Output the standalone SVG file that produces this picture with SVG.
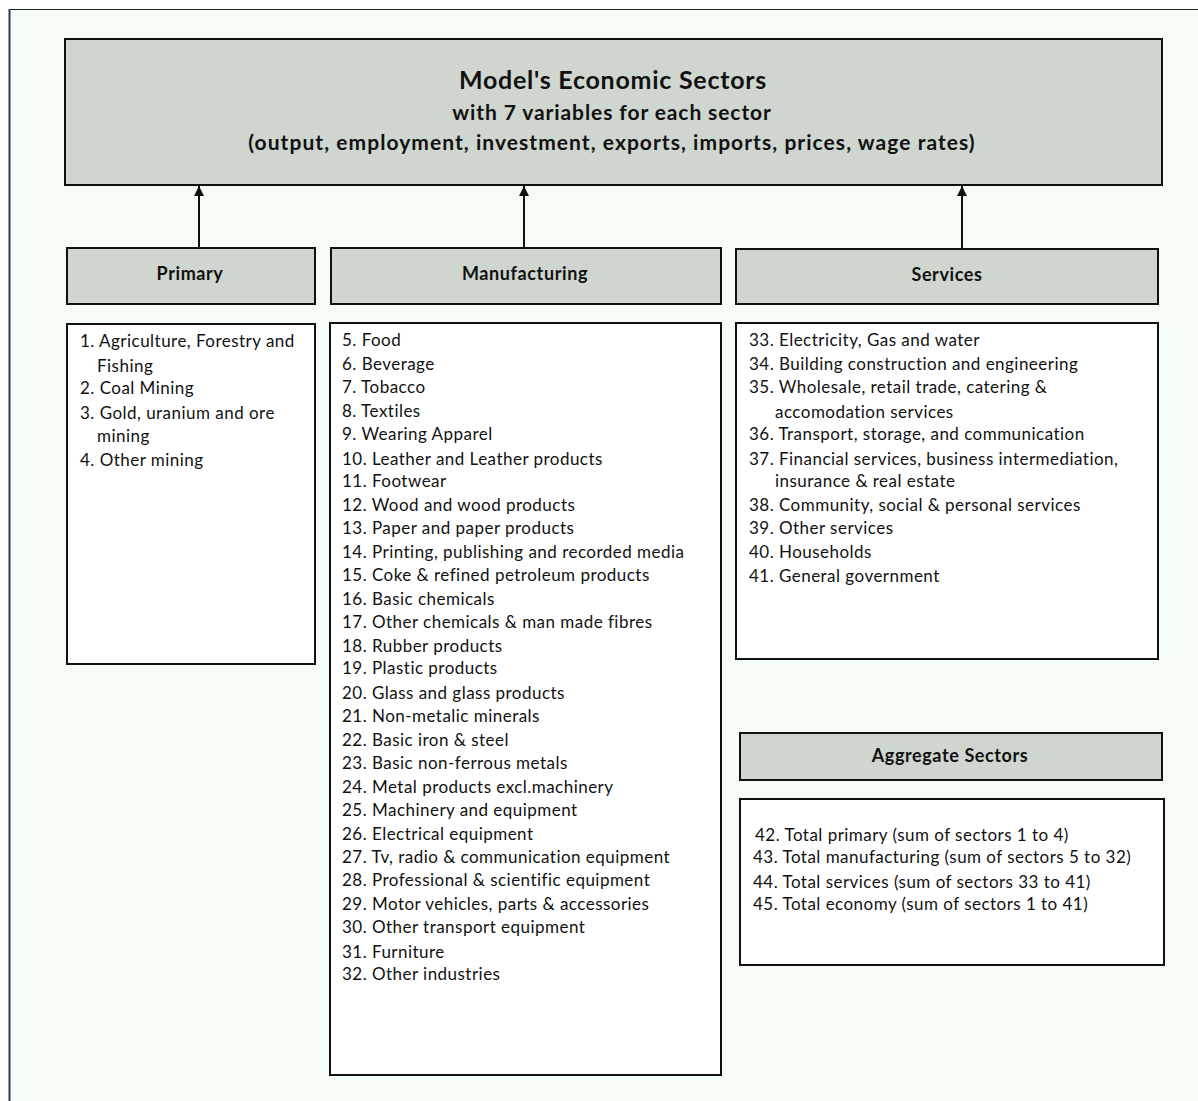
<svg xmlns="http://www.w3.org/2000/svg" width="1198" height="1101" viewBox="0 0 1198 1101">
<defs>
<marker id="ah" viewBox="0 0 10 10" refX="10" refY="5" markerWidth="10" markerHeight="10" markerUnits="userSpaceOnUse" orient="auto">
<path d="M0,0 L10,5 L0,10 z" fill="#111"/>
</marker>
<style>
.hdr{fill:#cfd5cf;stroke:#111;stroke-width:2}
.lst{fill:#fff;stroke:#111;stroke-width:2}
.ht{font-family:Lato,"Liberation Sans",sans-serif;font-weight:bold;font-size:18px;fill:#111;text-anchor:middle;letter-spacing:0.6px}
.tt{font-family:Lato,"Liberation Sans",sans-serif;font-weight:bold;fill:#111;text-anchor:middle}
.li{font-family:Lato,"Liberation Sans",sans-serif;font-size:17px;fill:#111;letter-spacing:0.47px}
.conn{stroke:#111;stroke-width:2;fill:none}
</style>
</defs>
<rect x="0" y="0" width="1198" height="1101" fill="#fff"/>
<rect x="9" y="9" width="1189" height="1092" fill="#f5fcf5"/>
<line x1="9" y1="9.5" x2="1198" y2="9.5" stroke="#222" stroke-width="1"/>
<line x1="9.5" y1="9" x2="9.5" y2="1101" stroke="#2a3a5a" stroke-width="2"/>

<g id="title">
<rect class="hdr" x="65" y="39" width="1097" height="146"/>
<text class="tt" x="613" y="89" font-size="25" letter-spacing="0.75">Model's Economic Sectors</text>
<text class="tt" x="612" y="120" font-size="21" letter-spacing="0.9">with 7 variables for each sector</text>
<text class="tt" x="612" y="150" font-size="21" letter-spacing="1.05">(output, employment, investment, exports, imports, prices, wage rates)</text>
</g>

<g id="connectors">
<line class="conn" x1="199" y1="248" x2="199" y2="186" marker-end="url(#ah)"/>
<line class="conn" x1="524" y1="248" x2="524" y2="186" marker-end="url(#ah)"/>
<line class="conn" x1="962" y1="249" x2="962" y2="186" marker-end="url(#ah)"/>
</g>

<g id="primary-header">
<rect class="hdr" x="67" y="248" width="248" height="56"/>
<text class="ht" x="190" y="280">Primary</text>
</g>
<g id="manufacturing-header">
<rect class="hdr" x="331" y="248" width="390" height="56"/>
<text class="ht" x="525" y="280">Manufacturing</text>
</g>
<g id="services-header">
<rect class="hdr" x="736" y="249" width="422" height="55"/>
<text class="ht" x="947" y="281">Services</text>
</g>

<g id="primary-list">
<rect class="lst" x="67" y="324" width="248" height="340"/>
<text class="li" x="80" y="347">1. Agriculture, Forestry and</text>
<text class="li" x="97" y="372">Fishing</text>
<text class="li" x="80" y="394">2. Coal Mining</text>
<text class="li" x="80" y="419">3. Gold, uranium and ore</text>
<text class="li" x="97" y="442">mining</text>
<text class="li" x="80" y="466">4. Other mining</text>
</g>

<g id="manufacturing-list">
<rect class="lst" x="330" y="323" width="391" height="752"/>
<text class="li" x="342" y="346">5. Food</text>
<text class="li" x="342" y="370">6. Beverage</text>
<text class="li" x="342" y="393">7. Tobacco</text>
<text class="li" x="342" y="417">8. Textiles</text>
<text class="li" x="342" y="440">9. Wearing Apparel</text>
<text class="li" x="342" y="465">10. Leather and Leather products</text>
<text class="li" x="342" y="487">11. Footwear</text>
<text class="li" x="342" y="511">12. Wood and wood products</text>
<text class="li" x="342" y="534">13. Paper and paper products</text>
<text class="li" x="342" y="558">14. Printing, publishing and recorded media</text>
<text class="li" x="342" y="581">15. Coke &amp; refined petroleum products</text>
<text class="li" x="342" y="605">16. Basic chemicals</text>
<text class="li" x="342" y="628">17. Other chemicals &amp; man made fibres</text>
<text class="li" x="342" y="652">18. Rubber products</text>
<text class="li" x="342" y="674">19. Plastic products</text>
<text class="li" x="342" y="699">20. Glass and glass products</text>
<text class="li" x="342" y="722">21. Non-metalic minerals</text>
<text class="li" x="342" y="746">22. Basic iron &amp; steel</text>
<text class="li" x="342" y="769">23. Basic non-ferrous metals</text>
<text class="li" x="342" y="793">24. Metal products excl.machinery</text>
<text class="li" x="342" y="816">25. Machinery and equipment</text>
<text class="li" x="342" y="840">26. Electrical equipment</text>
<text class="li" x="342" y="863">27. Tv, radio &amp; communication equipment</text>
<text class="li" x="342" y="886">28. Professional &amp; scientific equipment</text>
<text class="li" x="342" y="910">29. Motor vehicles, parts &amp; accessories</text>
<text class="li" x="342" y="933">30. Other transport equipment</text>
<text class="li" x="342" y="958">31. Furniture</text>
<text class="li" x="342" y="980">32. Other industries</text>
</g>

<g id="services-list">
<rect class="lst" x="736" y="323" width="422" height="336"/>
<text class="li" x="749" y="346">33. Electricity, Gas and water</text>
<text class="li" x="749" y="370">34. Building construction and engineering</text>
<text class="li" x="749" y="393">35. Wholesale, retail trade, catering &amp;</text>
<text class="li" x="775" y="418">accomodation services</text>
<text class="li" x="749" y="440">36. Transport, storage, and communication</text>
<text class="li" x="749" y="465">37. Financial services, business intermediation,</text>
<text class="li" x="775" y="487">insurance &amp; real estate</text>
<text class="li" x="749" y="511">38. Community, social &amp; personal services</text>
<text class="li" x="749" y="534">39. Other services</text>
<text class="li" x="749" y="558">40. Households</text>
<text class="li" x="749" y="582">41. General government</text>
</g>

<g id="aggregate-header">
<rect class="hdr" x="740" y="733" width="422" height="47"/>
<text class="ht" x="950" y="762">Aggregate Sectors</text>
</g>

<g id="aggregate-list">
<rect class="lst" x="740" y="799" width="424" height="166"/>
<text class="li" x="755" y="841">42. Total primary  (sum of sectors 1 to 4)</text>
<text class="li" x="753" y="863">43. Total manufacturing (sum of sectors 5 to 32)</text>
<text class="li" x="753" y="888">44. Total services (sum of sectors 33 to 41)</text>
<text class="li" x="753" y="910">45. Total economy (sum of sectors 1 to 41)</text>
</g>
</svg>
